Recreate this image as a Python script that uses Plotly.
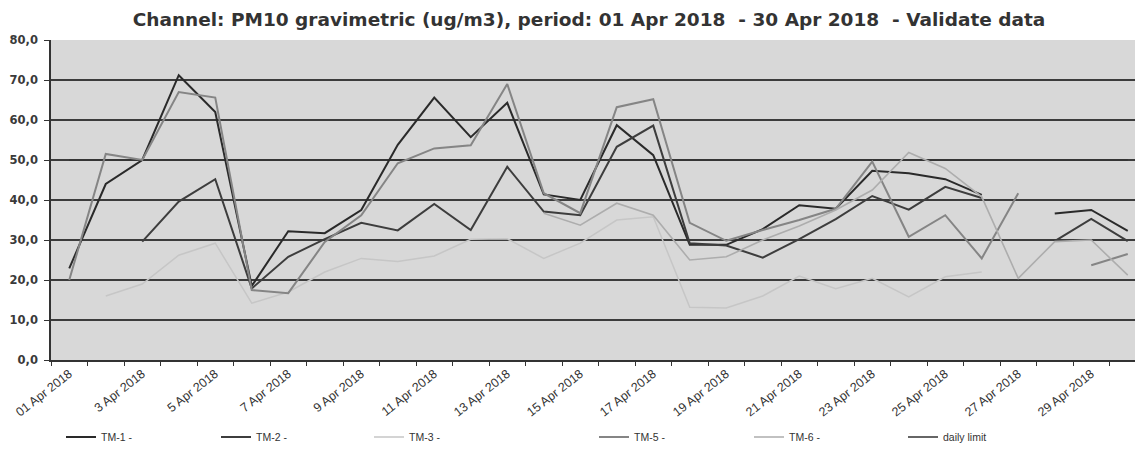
import plotly.graph_objects as go

# ---- data ----
DATES = ["2018-04-01", "2018-04-02", "2018-04-03", "2018-04-04", "2018-04-05",
         "2018-04-06", "2018-04-07", "2018-04-08", "2018-04-09", "2018-04-10",
         "2018-04-11", "2018-04-12", "2018-04-13", "2018-04-14", "2018-04-15",
         "2018-04-16", "2018-04-17", "2018-04-18", "2018-04-19", "2018-04-20",
         "2018-04-21", "2018-04-22", "2018-04-23", "2018-04-24", "2018-04-25",
         "2018-04-26", "2018-04-27", "2018-04-28", "2018-04-29", "2018-04-30"]

TICK_DATES = ["2018-04-01", "2018-04-03", "2018-04-05", "2018-04-07", "2018-04-09",
              "2018-04-11", "2018-04-13", "2018-04-15", "2018-04-17", "2018-04-19",
              "2018-04-21", "2018-04-23", "2018-04-25", "2018-04-27", "2018-04-29"]
TICK_LABELS = ["01 Apr 2018", "3 Apr 2018", "5 Apr 2018", "7 Apr 2018", "9 Apr 2018",
               "11 Apr 2018", "13 Apr 2018", "15 Apr 2018", "17 Apr 2018", "19 Apr 2018",
               "21 Apr 2018", "23 Apr 2018", "25 Apr 2018", "27 Apr 2018", "29 Apr 2018"]

TM1 = [22.9, 44.0, 50.0, 71.2, 62.0, 18.5, 32.2, 31.7, 37.5, 53.8,
       65.6, 55.7, 64.3, 41.4, 40.0, 58.7, 51.2, 28.8, 28.8, 32.7,
       38.7, 37.8, 47.3, 46.7, 45.2, 41.3, None, 36.6, 37.5, 32.3]

TM2 = [None, None, 29.6, 39.6, 45.2, 17.9, 25.8, 30.2, 34.3, 32.4,
       39.0, 32.5, 48.3, 37.1, 36.2, 53.3, 58.6, 29.2, 28.6, 25.6,
       30.2, 35.2, 41.0, 37.6, 43.3, 40.5, None, 29.7, 35.3, 29.7]

TM3 = [None, 16.0, 19.0, 26.2, 29.2, 14.2, 17.0, 22.0, 25.4, 24.6,
       26.0, 30.2, 30.3, 25.4, 29.2, 35.0, 35.8, 13.2, 13.0, 16.0,
       21.0, 17.8, 20.4, 15.8, 20.8, 22.0, None, None, None, None]

TM5 = [20.0, 51.5, 50.0, 67.0, 65.6, 17.5, 16.7, 29.5, 36.2, 49.2,
       52.9, 53.7, 69.0, 41.7, 36.7, 63.2, 65.2, 34.3, 29.8, 32.5,
       35.0, 37.8, 49.6, 30.8, 36.2, 25.4, 41.7, None, 23.7, 26.5]

TM6 = [None, None, None, None, None, None, None, None, None, None,
       None, None, None, 36.7, 33.7, 39.2, 36.2, 25.0, 25.8, 30.0,
       33.5, 37.5, 42.5, 51.9, 47.9, 40.8, 20.4, 29.6, 30.0, 21.2]

DAILY_LIMIT = [50.0, 50.0, 50.0, 50.0, 50.0, 50.0, 50.0, 50.0, 50.0, 50.0,
               50.0, 50.0, 50.0, 50.0, 50.0, 50.0, 50.0, 50.0, 50.0, 50.0,
               50.0, 50.0, 50.0, 50.0, 50.0, 50.0, 50.0, 50.0, 50.0, 50.0]

SERIES = [
    ("TM-1 -", TM1, "#2a2a2a", 2.0, "legend"),
    ("TM-2 -", TM2, "#3d3d3d", 2.0, "legend2"),
    ("TM-3 -", TM3, "#c6c6c6", 1.5, "legend3"),
    ("TM-5 -", TM5, "#858585", 2.0, "legend4"),
    ("TM-6 -", TM6, "#adadad", 1.6, "legend5"),
]

W, H = 1143, 463
OFF = 8  # page body margin in the browser

fig = go.Figure()
fig.add_trace(go.Scatter(x=DATES, y=DAILY_LIMIT, mode="lines", name="daily limit",
                         line=dict(color="#333333", width=1.6), legend="legend6"))
for name, vals, col, wd, lg in SERIES:
    fig.add_trace(go.Scatter(x=DATES, y=vals, mode="lines", name=name,
                             line=dict(color=col, width=wd), legend=lg,
                             connectgaps=False))

# desired legend line start positions (page pixels)
legend_x_px = {"legend": 67, "legend2": 222, "legend3": 375,
               "legend4": 600, "legend5": 755, "legend6": 909}
legend_font = dict(family="Liberation Sans, Arial, sans-serif", size=10.5, color="#333333")
legend_cfg = {}
for key, px in legend_x_px.items():
    legend_cfg[key] = dict(x=(px - OFF - 6) / W, xref="container", xanchor="left",
                           y=1 - (437 - OFF) / H, yref="container", yanchor="middle",
                           bgcolor="rgba(0,0,0,0)", borderwidth=0,
                           font=legend_font, itemwidth=30)

fig.update_layout(
    width=W, height=H,
    margin=dict(l=50.5 - OFF, r=W - (1146 - OFF), t=40 - OFF, b=H - (360 - OFF),
                autoexpand=False),
    paper_bgcolor="#ffffff",
    plot_bgcolor="#d8d8d8",
    separators=",.",
    title=dict(text="Channel: PM10 gravimetric (ug/m3), period: 01 Apr 2018  - 30 Apr 2018  - Validate data",
               x=(589 - OFF) / W, xref="container", xanchor="center",
               y=1 - (20 - OFF) / H, yref="container", yanchor="middle",
               font=dict(family="DejaVu Sans, Verdana, sans-serif", size=18.5,
                         color="#333333", weight="bold")),
    showlegend=True,
    **legend_cfg,
)

fig.update_xaxes(
    type="date",
    range=["2018-03-31 12:00", "2018-04-30 12:00"],
    tickmode="array", tickvals=TICK_DATES, ticktext=TICK_LABELS,
    tickangle=-38,
    ticks="", showgrid=False, zeroline=False,
    showline=True, linecolor="#333333", linewidth=1.6,
    tickfont=dict(family="Liberation Sans, Arial, sans-serif", size=12.5, color="#333333"),
    minor=dict(ticks="outside", ticklen=4, tickwidth=1.2, tickcolor="#333333",
               tick0="2018-03-31 12:00", dtick=86400000, showgrid=False),
)
fig.update_yaxes(
    range=[0, 80], dtick=10, tick0=0, tickformat=".1f",
    showgrid=True, gridcolor="#3c3c3c", gridwidth=1.6,
    zeroline=False,
    showline=True, linecolor="#333333", linewidth=1.6,
    ticks="outside", ticklen=5, tickcolor="#333333", tickwidth=1.2,
    ticklabelstandoff=4,
    tickfont=dict(family="DejaVu Sans, Verdana, sans-serif", size=11.5,
                  color="#3a3a3a", weight="bold"),
)

fig.write_html("out.html")
